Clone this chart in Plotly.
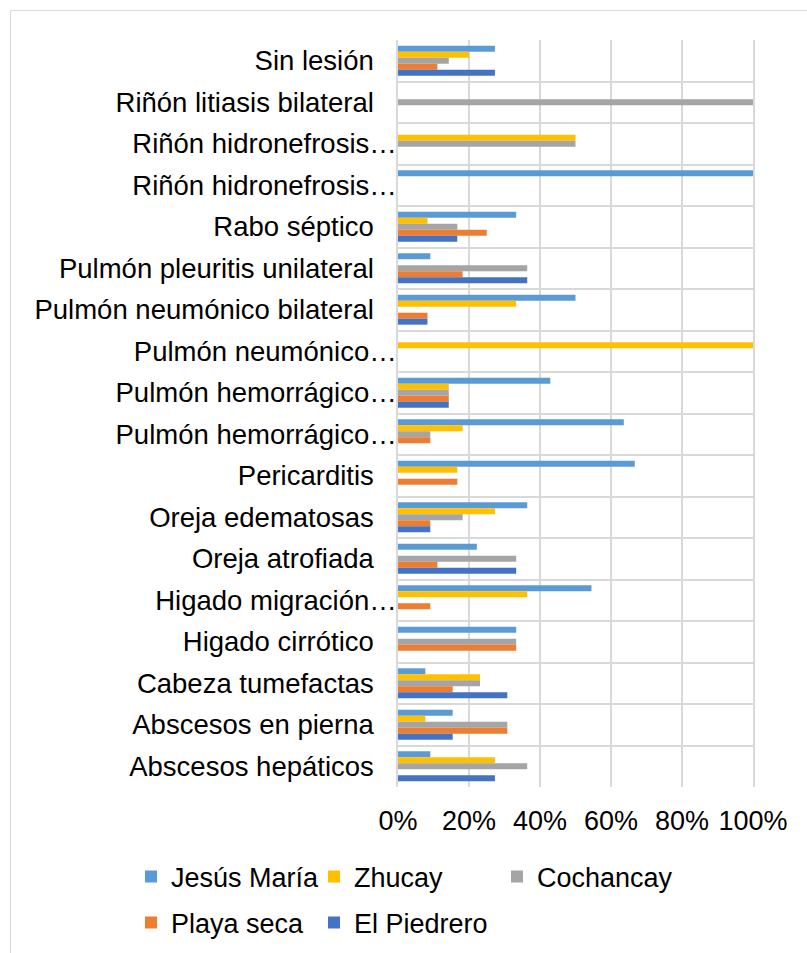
import plotly.graph_objects as go

# Lesion categories, top to bottom (full names used as ids, truncated labels shown)
lesion_ids = [
    "Sin lesión",
    "Riñón litiasis bilateral",
    "Riñón hidronefrosis bilateral",
    "Riñón hidronefrosis unilateral",
    "Rabo séptico",
    "Pulmón pleuritis unilateral",
    "Pulmón neumónico bilateral",
    "Pulmón neumónico unilateral",
    "Pulmón hemorrágico bilateral",
    "Pulmón hemorrágico unilateral",
    "Pericarditis",
    "Oreja edematosas",
    "Oreja atrofiada",
    "Higado migración parasitaria",
    "Higado cirrótico",
    "Cabeza tumefactas",
    "Abscesos en pierna",
    "Abscesos hepáticos",
]
lesion_labels = [
    "Sin lesión",
    "Riñón litiasis bilateral",
    "Riñón hidronefrosis…",
    "Riñón hidronefrosis…",
    "Rabo séptico",
    "Pulmón pleuritis unilateral",
    "Pulmón neumónico bilateral",
    "Pulmón neumónico…",
    "Pulmón hemorrágico…",
    "Pulmón hemorrágico…",
    "Pericarditis",
    "Oreja edematosas",
    "Oreja atrofiada",
    "Higado migración…",
    "Higado cirrótico",
    "Cabeza tumefactas",
    "Abscesos en pierna",
    "Abscesos hepáticos",
]

# Percentage of animals per lesion, by locality
jesus_maria = [27.3, 0, 0, 100, 33.3, 9.1, 50, 0, 42.9, 63.6, 66.7, 36.4, 22.2, 54.5, 33.3, 7.7, 15.4, 9.1]
zhucay      = [20, 0, 50, 0, 8.3, 0, 33.3, 100, 14.3, 18.2, 16.7, 27.3, 0, 36.4, 0, 23.1, 7.7, 27.3]
cochancay   = [14.3, 100, 50, 0, 16.7, 36.4, 0, 0, 14.3, 9.1, 0, 18.2, 33.3, 0, 33.3, 23.1, 30.8, 36.4]
playa_seca  = [11.1, 0, 0, 0, 25, 18.2, 8.3, 0, 14.3, 9.1, 16.7, 9.1, 11.1, 9.1, 33.3, 15.4, 30.8, 0]
el_piedrero = [27.3, 0, 0, 0, 16.7, 36.4, 8.3, 0, 14.3, 0, 0, 9.1, 33.3, 0, 0, 30.8, 15.4, 27.3]

x_ticks = [0, 20, 40, 60, 80, 100]
x_tick_labels = ["0%", "20%", "40%", "60%", "80%", "100%"]

series = [
    ("Jesús María", jesus_maria, "#5B9BD5", "legend"),
    ("Zhucay", zhucay, "#FFC000", "legend"),
    ("Cochancay", cochancay, "#A5A5A5", "legend"),
    ("Playa seca", playa_seca, "#ED7D31", "legend2"),
    ("El Piedrero", el_piedrero, "#4472C4", "legend2"),
]

FONT = "Liberation Sans, Arial, sans-serif"
FS = 27
FS_CAT = 27.5
GRID = "#D9D9D9"

# Non-truncated labels get trailing no-break spaces so the ellipsis ones overhang
shown = [t if t.endswith("…") else t + "\u00a0" * 3 for t in lesion_labels]

fig = go.Figure()
for name, vals, color, leg in series:
    fig.add_trace(go.Bar(
        y=lesion_ids, x=vals, name=name, orientation="h",
        marker=dict(color=color, line=dict(width=0)),
        legend=leg,
    ))

W, H = 807, 953
L, R, T, B = 398, 54, 40, 166
pw, ph = W - L - R, H - T - B

def px_x(px):
    return (px - L) / pw

def px_y(py):
    return (H - B - py) / ph

legend_style = dict(
    orientation="h", xanchor="left", yanchor="middle",
    entrywidth=138, entrywidthmode="pixels",
    font=dict(size=FS, family=FONT, color="#000000"),
    bgcolor="rgba(0,0,0,0)", itemclick=False, itemdoubleclick=False,
)

fig.update_layout(
    width=W, height=H,
    margin=dict(l=L, r=R, t=T, b=B, autoexpand=False),
    paper_bgcolor="white", plot_bgcolor="white",
    font=dict(family=FONT, size=FS, color="#000000"),
    barmode="group", bargap=0.28, bargroupgap=0,
    xaxis=dict(
        range=[0, 100], tickmode="array", tickvals=x_ticks, ticktext=x_tick_labels,
        showgrid=True, gridcolor=GRID, gridwidth=1.5,
        zeroline=False, showline=False, ticks="",
        ticklabelstandoff=15, automargin=False,
        tickfont=dict(size=FS, family=FONT, color="#000000"),
    ),
    yaxis=dict(
        type="category", categoryorder="array", categoryarray=lesion_ids,
        autorange="reversed",
        tickmode="array", tickvals=lesion_ids, ticktext=shown,
        tickson="boundaries", ticks="",
        showgrid=True, gridcolor=GRID, gridwidth=1.5,
        showline=True, linecolor=GRID, linewidth=1.5, mirror=True,
        zeroline=False, ticklabelstandoff=-6, automargin=False,
        tickfont=dict(size=FS_CAT, family=FONT, color="#000000"),
    ),
    legend=dict(legend_style, x=px_x(131), y=px_y(877)),
    legend2=dict(legend_style, x=px_x(131), y=px_y(923)),
    shapes=[dict(
        type="rect", xref="paper", yref="paper",
        x0=px_x(10.5), x1=px_x(W + 20), y0=px_y(H + 20), y1=px_y(10.5),
        line=dict(color=GRID, width=1), fillcolor="rgba(0,0,0,0)", layer="below",
    )],
)

fig.write_html("out.html")
